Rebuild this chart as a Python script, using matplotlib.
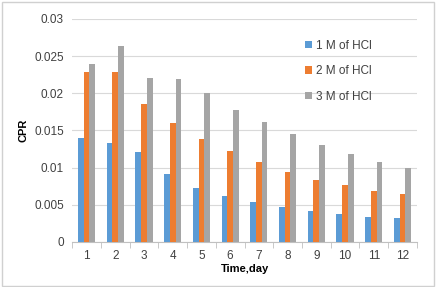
import matplotlib
matplotlib.use('Agg')
import matplotlib.pyplot as plt
import numpy as np

## Data
days = [1, 2, 3, 4, 5, 6, 7, 8, 9, 10, 11, 12]
cpr_1m = [0.0140, 0.0133, 0.0121, 0.0091, 0.0073, 0.0062, 0.0054, 0.0047, 0.0041, 0.0037, 0.0034, 0.0032]
cpr_2m = [0.0229, 0.0229, 0.0185, 0.0160, 0.0138, 0.0123, 0.0107, 0.0094, 0.0084, 0.0076, 0.0069, 0.0064]
cpr_3m = [0.0240, 0.0263, 0.0220, 0.0219, 0.0200, 0.0178, 0.0161, 0.0145, 0.0131, 0.0118, 0.0107, 0.0099]
labels = ['1 M of HCl', '2 M of HCl', '3 M of HCl']
yticks = [0, 0.005, 0.01, 0.015, 0.02, 0.025, 0.03]
yticklabels = ['0', '0.005', '0.01', '0.015', '0.02', '0.025', '0.03']

plt.rcParams['font.family'] = ['Liberation Sans', 'DejaVu Sans']
fig = plt.figure(figsize=(4.37, 2.87), dpi=100)
ax = fig.add_axes([0.165, 0.157, 0.789, 0.777])

## figure border
fig.patches.append(plt.Rectangle((0.004, 0.004), 0.99, 0.99, transform=fig.transFigure,
                                 fill=False, ec='#d0d0d0', lw=1))

x = np.arange(len(days))
w = 0.2
colors = ['#5B9BD5', '#ED7D31', '#A5A5A5']
for i, (vals, lab) in enumerate(zip([cpr_1m, cpr_2m, cpr_3m], labels)):
    ax.bar(x + (i - 1) * w, vals, w, color=colors[i], label=lab, zorder=3)

ax.set_xlim(-0.5, len(days) - 0.5)
ax.set_ylim(0, 0.03)
ax.set_yticks(yticks)
ax.set_yticklabels(yticklabels, fontsize=8.5, color='#404040')
ax.set_xticks(x)
ax.set_xticklabels([str(d) for d in days], fontsize=8.5, color='#404040')
ax.set_xticks(np.arange(-0.5, len(days), 1), minor=True)
ax.tick_params(axis='x', which='major', length=0, pad=6)
ax.tick_params(axis='x', which='minor', length=4, color='#c0c0c0', direction='out')
ax.tick_params(axis='y', length=0, pad=6)
ax.grid(axis='y', color='#d9d9d9', lw=0.8, zorder=0)
for s in ['top', 'right', 'left']:
    ax.spines[s].set_visible(False)
ax.spines['bottom'].set_color('#c0c0c0')

ax.set_xlabel('Time,day', fontsize=8, fontweight='bold', labelpad=1)
ax.set_ylabel('CPR', fontsize=8, fontweight='bold', labelpad=4)

ax.legend(loc='upper left', bbox_to_anchor=(0.645, 0.955), frameon=False, fontsize=8.5,
          handlelength=0.6, handleheight=0.6, handletextpad=0.3, labelspacing=1.15,
          labelcolor='#404040')

plt.savefig('out.png', dpi=100)
